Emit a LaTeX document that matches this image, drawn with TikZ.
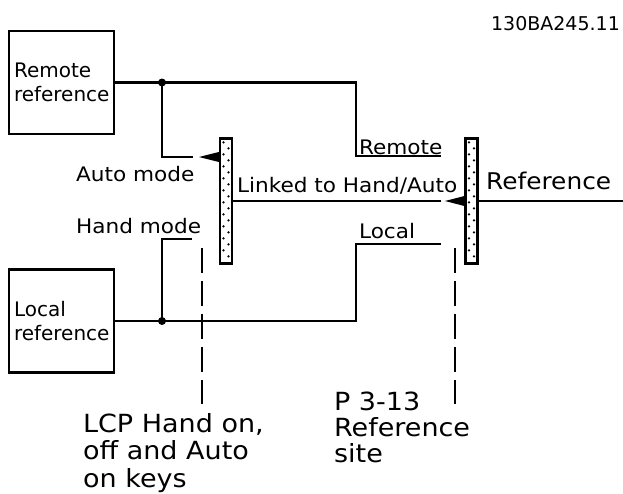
\documentclass[tikz,border=0pt]{standalone}
\usepackage{fontspec}
\setmainfont{DejaVu Sans}
\newfontfamily\widefont[FakeStretch=1.08]{DejaVu Sans}
\usetikzlibrary{positioning}

\begin{document}
\begin{tikzpicture}[x=1pt, y=-1pt, line width=2.2pt,
    refbox/.style={draw, rectangle, minimum width=105pt, minimum height=103pt, inner sep=5pt, text width=95pt, align=left, font=\fontsize{20}{24}\selectfont},
    switchbar/.style={draw, rectangle, minimum width=12pt, minimum height=125pt, inner sep=0pt},
    lbl/.style={inner sep=0pt, anchor=base west, font=\widefont\fontsize{20}{24}\selectfont},
    note/.style={inner sep=0pt, anchor=north west, align=left, font=\widefont\fontsize{25}{27.5}\selectfont},
    keyline/.style={line width=1.8pt, dash pattern=on 25pt off 8pt}]
    \useasboundingbox (0,0) rectangle (623,493);
    \clip (0,0) rectangle (623,493);
    % Boxes
    \node[refbox] (remote) at (61.5,82.5) {Remote\\reference};
    \node[refbox] (local) at (61.5,321) {Local\\reference};
    % Switch bars
    \node[switchbar] (barL) at (226,201) {};
    \node[switchbar] (barR) at (471.5,201) {};
    \foreach \bar in {barL, barR} {
        \foreach \k in {1,...,10} {
            \fill ([xshift=-2.5pt, yshift=-(12*\k-7)*1pt]\bar.north) circle (1.3);
            \fill ([xshift=2.5pt, yshift=-(12*\k-1)*1pt]\bar.north) circle (1.3);
        }
    }
    % Points
    \coordinate (jR) at (162,82.5);
    \coordinate (jL) at (162,321);
    \coordinate (autoC) at (193,157);
    \coordinate (handC) at (192,239);
    \coordinate (remC) at (441,156);
    \coordinate (locC) at (441,244);
    \coordinate (linkC) at (441,201);
    \coordinate (refEnd) at (623,201);
    % Connections
    \draw (remote.east) -- (jR) -| (356,156) -- (remC);
    \draw (jR) |- (autoC);
    \draw (local.east) -- (jL) -| (356,244) -- (locC);
    \draw (jL) |- (handC);
    \draw (barL.east |- linkC) -- (linkC);
    \draw (barR.east |- refEnd) -- (refEnd);
    \fill (jR) circle (4);
    \fill (jL) circle (4);
    % Contacts
    \fill (199,157) -- (barL.west |- 0,152) -- (barL.west |- 0,162) -- cycle;
    \fill (445,201) -- (barR.west |- 0,196) -- (barR.west |- 0,206) -- cycle;
    % Key lines
    \draw[keyline] (202,248) -- (202,404);
    \draw[keyline] (455,248) -- (455,404);
    % Labels
    \node[lbl] (auto) at (75,181) {Auto mode};
    \node[lbl] (hand) at (75,233) {Hand mode};
    \node[lbl] (remlbl) at (358,154) {Remote};
    \node[lbl] (loclbl) at (358,238) {Local};
    \node[lbl] (linklbl) at (236,192) {Linked to Hand/Auto};
    \node[lbl, font=\widefont\fontsize{23}{28}\selectfont] (reflbl) at (485,189) {Reference};
    \node[lbl, anchor=base east, font=\fontsize{19}{24}\selectfont] (code) at (621,30) {130BA245.11};
    \node[note] (keys) at (82,412) {LCP Hand on,\\off and Auto\\on keys};
    \node[note, font=\widefont\fontsize{25}{26}\selectfont] (site) at (333,391) {P 3-13\\Reference\\site};
\end{tikzpicture}
\end{document}
